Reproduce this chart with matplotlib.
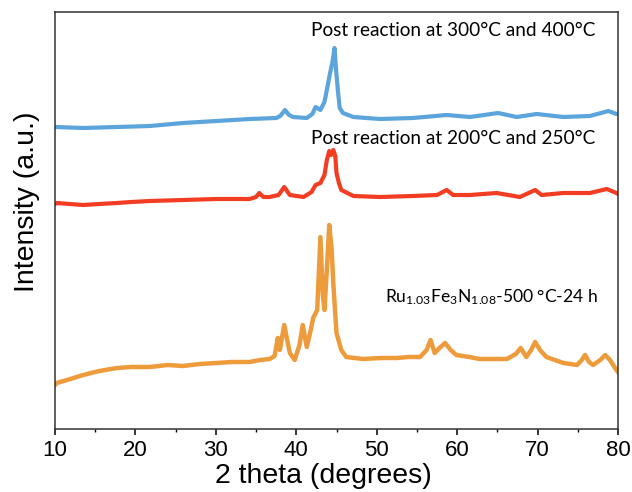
import matplotlib
matplotlib.use('Agg')
import matplotlib.pyplot as plt
from matplotlib.ticker import MultipleLocator

# values (intensity in arbitrary units, offset traces)
two_theta_orange = [10.0, 10.2, 11.5, 13.5, 15.5, 17.7, 19.5, 21.8, 24.0, 25.9, 28.0, 30.1,
                    32.0, 34.2, 35.5, 36.7, 37.3, 37.7, 37.95, 38.5, 39.2, 39.8, 40.4, 40.8,
                    41.3, 41.8, 42.1, 42.6, 43.0, 43.3, 43.5, 43.8, 44.1, 44.4, 44.6, 45.0,
                    45.6, 46.2, 48.3, 50.5, 52.5, 54.0, 55.4, 56.2, 56.7, 57.2, 57.8, 58.5,
                    59.2, 59.9, 61.5, 62.8, 64.5, 66.2, 67.3, 67.9, 68.6, 69.2, 69.7, 70.3,
                    71.1, 73.2, 74.9, 75.5, 75.9, 76.4, 76.9, 77.8, 78.4, 79.0, 79.8, 80.0]
intensity_orange = [44, 46, 49, 54, 58, 61, 62, 62, 64, 63, 65, 66,
                    67, 67, 69, 70, 73, 91, 79, 104, 76, 69, 84, 104,
                    82, 99, 111, 119, 192, 134, 119, 159, 204, 179, 146, 96,
                    79, 72, 70, 71, 71, 72, 72, 79, 89, 76, 81, 86,
                    79, 74, 72, 70, 70, 70, 75, 81, 72, 79, 87, 79,
                    72, 66, 64, 69, 74, 67, 64, 69, 74, 69, 59, 57]

two_theta_red = [10.0, 10.2, 13.5, 15.5, 17.7, 19.5, 21.8, 25.9, 30.1, 34.2, 35.0, 35.4,
                 35.9, 36.7, 37.8, 38.5, 39.2, 40.9, 41.9, 42.4, 43.0, 43.5, 43.8, 44.1,
                 44.35, 44.6, 44.85, 45.0, 45.3, 45.6, 47.1, 50.4, 54.5, 57.5, 58.7, 59.5,
                 61.6, 64.9, 67.8, 69.7, 70.5, 73.2, 76.5, 78.6, 79.8, 80.0]
intensity_red = [225, 226, 224, 225, 226, 227, 228, 229, 230, 230, 232, 236,
                 232, 232, 234, 242, 234, 232, 237, 244, 246, 254, 269, 278,
                 274, 279, 273, 256, 246, 239, 233, 232, 233, 234, 239, 234,
                 234, 236, 232, 239, 234, 236, 236, 240, 236, 235]

two_theta_blue = [10.0, 13.5, 17.7, 21.8, 25.9, 30.1, 34.2, 37.5, 38.0, 38.6, 39.1, 39.6,
                  41.3, 42.0, 42.4, 43.0, 43.5, 43.8, 44.2, 44.5, 44.75, 44.95, 45.2, 45.4,
                  45.8, 47.1, 50.4, 54.5, 58.7, 61.6, 65.1, 67.4, 69.9, 73.2, 76.5, 78.8,
                  79.8, 80.0]
intensity_blue = [302, 301, 302, 303, 306, 308, 310, 311, 313, 319, 314, 312,
                  311, 315, 322, 319, 327, 339, 356, 367, 381, 359, 336, 321,
                  316, 312, 310, 311, 314, 312, 316, 312, 315, 312, 313, 318,
                  315, 315]

labels = ['Post reaction at 300°C and 400°C',
          'Post reaction at 200°C and 250°C',
          r'Ru$\mathregular{_{1.03}}$Fe$\mathregular{_3}$N$\mathregular{_{1.08}}$-500 °C-24 h']

fig = plt.figure(figsize=(6.32, 4.92), dpi=100)
ax = fig.add_axes([55 / 632, 1 - 429 / 492, 563 / 632, 417 / 492])

ax.plot(two_theta_orange, intensity_orange, color='#EE9B3C', lw=3.2, solid_joinstyle='round')
ax.plot(two_theta_red, intensity_red, color='#F23D22', lw=3.0, solid_joinstyle='round')
ax.plot(two_theta_blue, intensity_blue, color='#5BA4DC', lw=3.0, solid_joinstyle='round')

ax.text(59.5, 399, labels[0], ha='center', va='center', fontsize=13.7, family='Lato')
ax.text(59.5, 291, labels[1], ha='center', va='center', fontsize=13.7, family='Lato')
ax.text(64.2, 132, labels[2], ha='center', va='center', fontsize=12.6, family='Lato')

ax.set_xlim(10, 80)
ax.set_ylim(0, 417)
ax.xaxis.set_major_locator(MultipleLocator(10))
ax.xaxis.set_minor_locator(MultipleLocator(5))
ax.tick_params(axis='x', which='major', direction='out', length=4, width=1.1, labelsize=16, pad=4)
ax.tick_params(axis='x', which='minor', direction='out', length=2.5, width=1.0)
ax.set_yticks([])
for lab in ax.get_xticklabels():
    lab.set_family('Liberation Sans')
for sp in ax.spines.values():
    sp.set_linewidth(1.1)
    sp.set_color('#333333')

ax.set_xlabel('2 theta (degrees)', fontsize=20.5, family='Liberation Sans')
ax.xaxis.set_label_coords(0.477, -0.082)
ax.set_ylabel('Intensity (a.u.)', fontsize=20.5, family='Liberation Sans')
ax.yaxis.set_label_coords(-0.027, 0.545)

fig.savefig('out.png', dpi=100)
